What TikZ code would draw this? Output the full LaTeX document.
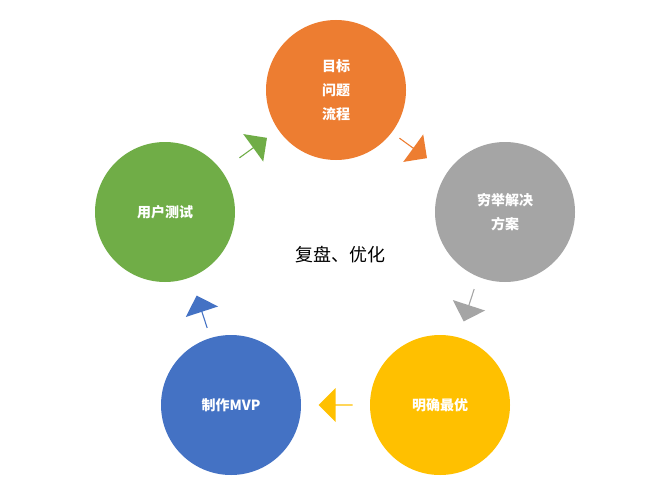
\documentclass[tikz,border=0pt]{standalone}
\usepackage{fontspec}
\setmainfont{Noto Sans CJK SC}
\usetikzlibrary{shapes.arrows}
\definecolor{corange}{HTML}{ED7D31}
\definecolor{cgray}{HTML}{A5A5A5}
\definecolor{cyellow}{HTML}{FFC000}
\definecolor{cblue}{HTML}{4472C4}
\definecolor{cgreen}{HTML}{70AD47}
\begin{document}
\begin{tikzpicture}[x=1pt,y=-1pt,
  stage/.style={circle, minimum size=140pt, text=white, font=\bfseries\fontsize{14}{24}\selectfont, align=center},
  blockarrow/.style={single arrow, minimum height=34pt, minimum width=34pt, single arrow head extend=6pt, inner sep=0pt}]
\useasboundingbox (0,0) rectangle (671,500);
\node [stage, fill=corange] (goal) at (336,90) {目标\\问题\\流程};
\node [stage, fill=cgray] (plan) at (505,212) {穷举解决\\方案};
\node [stage, fill=cyellow] (best) at (440,405) {明确最优};
\node [stage, fill=cblue] (mvp) at (231,405) {制作MVP};
\node [stage, fill=cgreen] (test) at (165,212) {用户测试};
\node [font=\fontsize{18}{20}\selectfont] (review) at (340,255) {复盘、优化};
\node [blockarrow, fill=corange, rotate=-36] (a1) at (413,148) {};
\node [blockarrow, fill=cgray, rotate=-108] (a2) at (469,305) {};
\node [blockarrow, fill=cyellow, rotate=180] (a3) at (336,405) {};
\node [blockarrow, fill=cblue, rotate=108] (a4) at (202,312) {};
\node [blockarrow, fill=cgreen, rotate=36] (a5) at (253,148) {};
\end{tikzpicture}
\end{document}
